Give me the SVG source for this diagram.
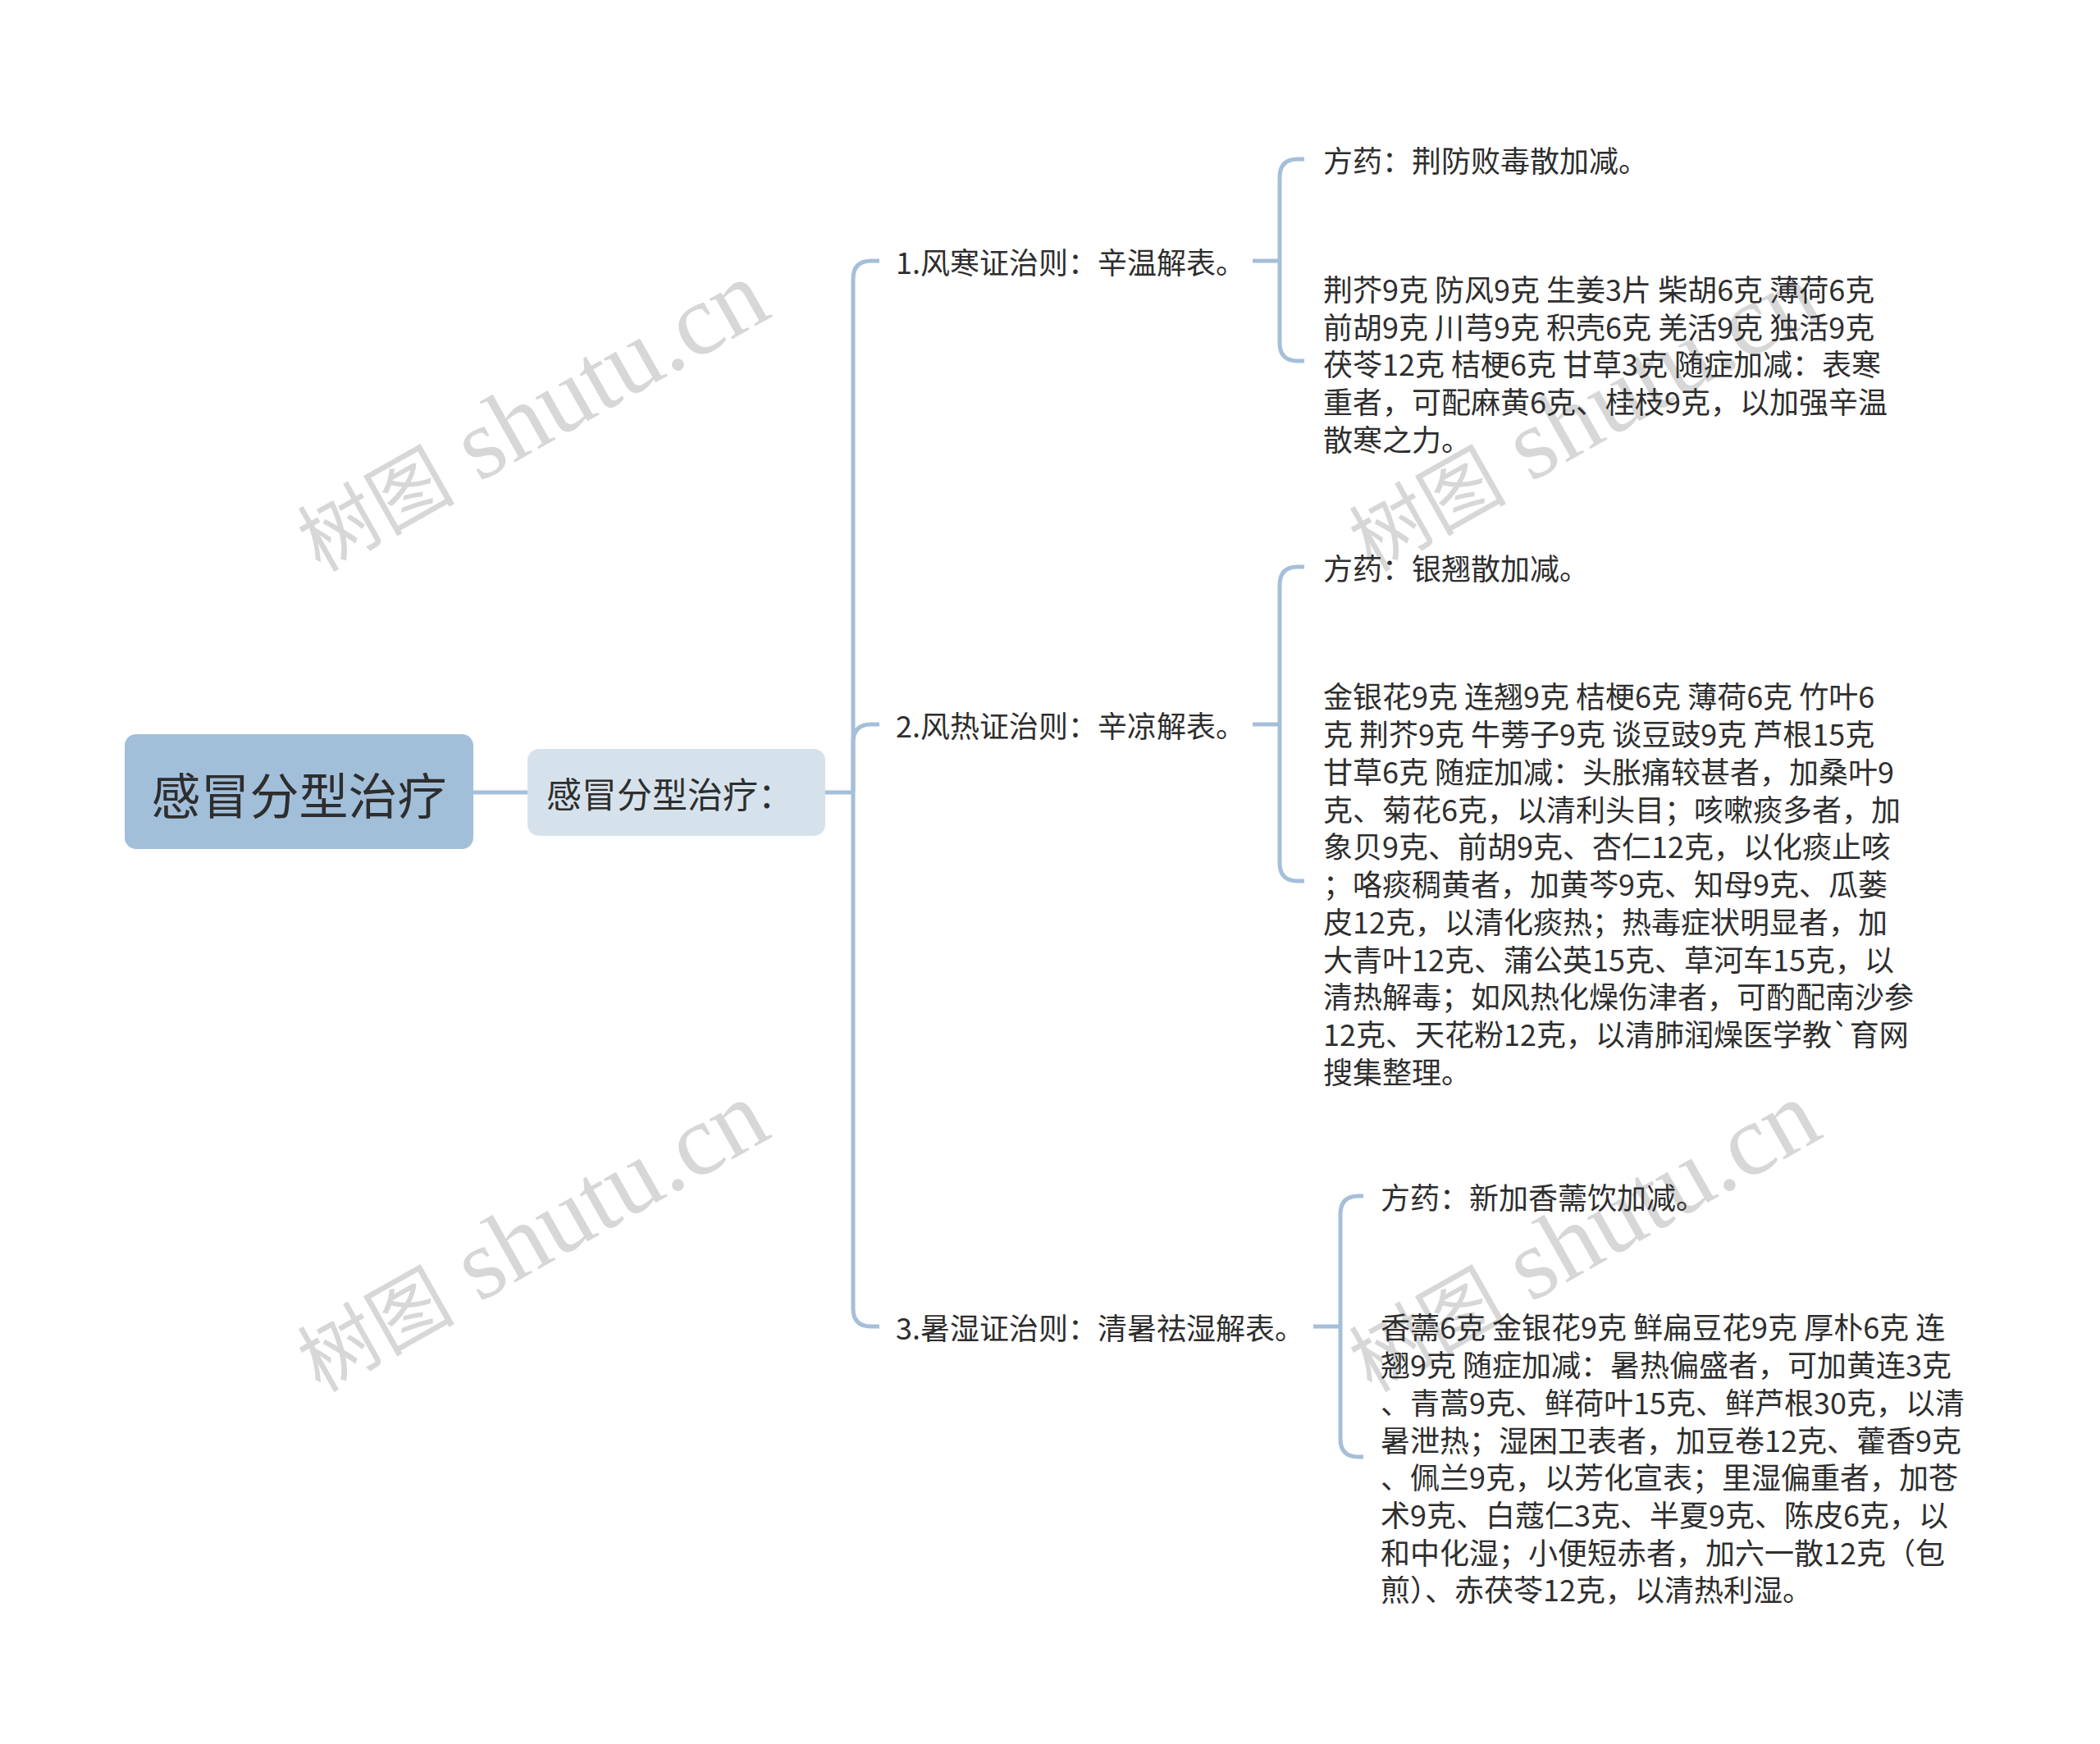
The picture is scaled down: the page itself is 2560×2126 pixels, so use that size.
<svg xmlns="http://www.w3.org/2000/svg" width="2560" height="2126" viewBox="0 0 2560 2126">
<style>
.t,.t tspan{font-family:"Noto Sans CJK SC","Liberation Sans",sans-serif;fill:#2e2e2e;dominant-baseline:central}
.l{font-size:36px}
.c{fill:none;stroke:#a6bfd9;stroke-width:5}
.wm{font-family:"Liberation Serif","Noto Sans CJK SC",serif;fill:#d7d7d7}
.wz{font-size:96px}
.we{font-size:123px}
</style>
<defs>
<text id="wmk" class="wm" x="-318" y="36"><tspan class="wz">树图</tspan><tspan class="we"> shutu.cn</tspan></text>
</defs>
<rect width="2560" height="2126" fill="#ffffff"/>
<g id="watermarks">
<use href="#wmk" transform="translate(649,510) rotate(-29.5)"/>
<use href="#wmk" transform="translate(649,1510) rotate(-29.5)"/>
<use href="#wmk" transform="translate(1931,510) rotate(-29.5)"/>
<use href="#wmk" transform="translate(1931,1510) rotate(-29.5)"/>
</g>
<g id="connectors" class="c">
<path d="M577 966H643"/>
<path d="M1006 966H1040"/>
<path d="M1040 966V340Q1040 318 1062 318H1072"/>
<path d="M1040 966V905Q1040 883 1062 883H1072"/>
<path d="M1040 966V1595Q1040 1617 1062 1617H1072"/>
<path d="M1527 318H1560"/>
<path d="M1560 318V216Q1560 194 1582 194H1590"/>
<path d="M1560 318V418Q1560 440 1582 440H1590"/>
<path d="M1527 883H1560"/>
<path d="M1560 883V713Q1560 691 1582 691H1590"/>
<path d="M1560 883V1052Q1560 1074 1582 1074H1590"/>
<path d="M1601 1617H1634"/>
<path d="M1634 1617V1480Q1634 1458 1656 1458H1662"/>
<path d="M1634 1617V1754Q1634 1776 1656 1776H1662"/>
</g>
<g id="root">
<rect x="152" y="895" width="425" height="140" rx="14" fill="#a2bfda"/>
<text class="t" x="364.5" y="966" font-size="60" text-anchor="middle">感冒分型治疗</text>
</g>
<g id="sub">
<rect x="643" y="913" width="363" height="106" rx="14" fill="#d6e2eb"/>
<text class="t" x="666" y="966" font-size="43">感冒分型治疗：</text>
</g>
<g id="b1">
<text class="t l" x="1092" y="318">1.风寒证治则：辛温解表。</text>
</g>
<g id="b1-1">
<text class="t l" x="1613" y="194">方药：荆防败毒散加减。</text>
</g>
<g id="b1-2">
<text class="t l">
<tspan x="1613" y="351">荆芥9克 防风9克 生姜3片 柴胡6克 薄荷6克</tspan>
<tspan x="1613" y="397">前胡9克 川芎9克 积壳6克 羌活9克 独活9克</tspan>
<tspan x="1613" y="442">茯苓12克 桔梗6克 甘草3克 随症加减：表寒</tspan>
<tspan x="1613" y="488">重者，可配麻黄6克、桂枝9克，以加强辛温</tspan>
<tspan x="1613" y="534">散寒之力。</tspan>
</text>
</g>
<g id="b2">
<text class="t l" x="1092" y="883">2.风热证治则：辛凉解表。</text>
</g>
<g id="b2-1">
<text class="t l" x="1613" y="691">方药：银翘散加减。</text>
</g>
<g id="b2-2">
<text class="t l">
<tspan x="1613" y="847">金银花9克 连翘9克 桔梗6克 薄荷6克 竹叶6</tspan>
<tspan x="1613" y="893">克 荆芥9克 牛蒡子9克 谈豆豉9克 芦根15克</tspan>
<tspan x="1613" y="939">甘草6克 随症加减：头胀痛较甚者，加桑叶9</tspan>
<tspan x="1613" y="985">克、菊花6克，以清利头目；咳嗽痰多者，加</tspan>
<tspan x="1613" y="1030">象贝9克、前胡9克、杏仁12克，以化痰止咳</tspan>
<tspan x="1613" y="1076">；咯痰稠黄者，加黄芩9克、知母9克、瓜蒌</tspan>
<tspan x="1613" y="1122">皮12克，以清化痰热；热毒症状明显者，加</tspan>
<tspan x="1613" y="1168">大青叶12克、蒲公英15克、草河车15克，以</tspan>
<tspan x="1613" y="1213">清热解毒；如风热化燥伤津者，可酌配南沙参</tspan>
<tspan x="1613" y="1259">12克、天花粉12克，以清肺润燥医学教`育网</tspan>
<tspan x="1613" y="1305">搜集整理。</tspan>
</text>
</g>
<g id="b3">
<text class="t l" x="1092" y="1617">3.暑湿证治则：清暑祛湿解表。</text>
</g>
<g id="b3-1">
<text class="t l" x="1683" y="1458">方药：新加香薷饮加减。</text>
</g>
<g id="b3-2">
<text class="t l">
<tspan x="1683" y="1616">香薷6克 金银花9克 鲜扁豆花9克 厚朴6克 连</tspan>
<tspan x="1683" y="1662">翘9克 随症加减：暑热偏盛者，可加黄连3克</tspan>
<tspan x="1683" y="1708">、青蒿9克、鲜荷叶15克、鲜芦根30克，以清</tspan>
<tspan x="1683" y="1754">暑泄热；湿困卫表者，加豆卷12克、藿香9克</tspan>
<tspan x="1683" y="1799">、佩兰9克，以芳化宣表；里湿偏重者，加苍</tspan>
<tspan x="1683" y="1845">术9克、白蔻仁3克、半夏9克、陈皮6克，以</tspan>
<tspan x="1683" y="1891">和中化湿；小便短赤者，加六一散12克（包</tspan>
<tspan x="1683" y="1936">煎）、赤茯苓12克，以清热利湿。</tspan>
</text>
</g>
</svg>
